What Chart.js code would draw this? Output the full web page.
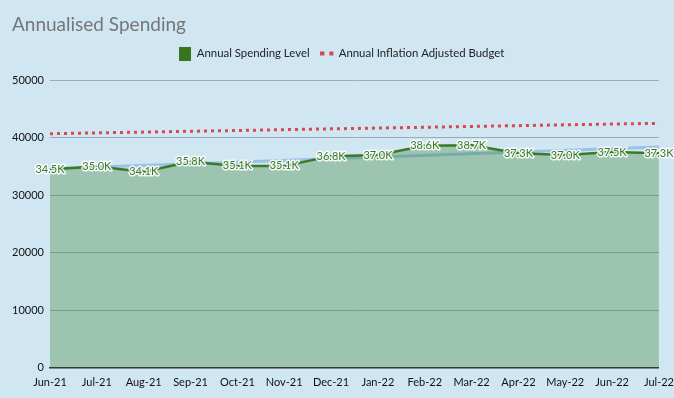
<!DOCTYPE html>
<html>
<head>
<meta charset="utf-8">
<script src="https://cdn.jsdelivr.net/npm/chart.js@4"></script>
<style>
  html, body { margin: 0; padding: 0; background: #d0e6f3; }
  #wrap { width: 674px; height: 398px; }
</style>
</head>
<body>
<div id="wrap"><canvas id="myChart"></canvas></div>
<script>
"use strict";

// chart data
let months = ["Jun-21", "Jul-21", "Aug-21", "Sep-21", "Oct-21", "Nov-21", "Dec-21",
  "Jan-22", "Feb-22", "Mar-22", "Apr-22", "May-22", "Jun-22", "Jul-22"];
let spending = [34500, 35000, 34100, 35800, 35100, 35100, 36800,
  37000, 38600, 38700, 37300, 37000, 37500, 37300];
let budget = [40700, 40840, 40980, 41120, 41260, 41400, 41540,
  41680, 41820, 41960, 42100, 42240, 42380, 42500];
let trend = [34600, null, null, null, null, null, null,
  null, null, null, null, null, null, 38400];
let yTicks = [0, 10000, 20000, 30000, 40000, 50000];

const GREEN = "#3a7a25";
const RED = "#d9474a";

// legend markers
function makeSquare() {
  let c = document.createElement("canvas");
  c.width = 12; c.height = 14;
  let ctx = c.getContext("2d");
  ctx.fillStyle = "#38761d";
  ctx.fillRect(0, 0, 12, 14);
  return c;
}
function makeDots() {
  let c = document.createElement("canvas");
  c.width = 14; c.height = 6;
  let ctx = c.getContext("2d");
  ctx.fillStyle = RED;
  ctx.fillRect(0, 1, 4, 4);
  ctx.fillRect(9, 1, 4, 4);
  return c;
}

// value labels on the spending line
const valueLabels = {
  id: "valueLabels",
  afterDatasetsDraw(chart) {
    let ctx = chart.ctx;
    let meta = chart.getDatasetMeta(0);
    ctx.save();
    ctx.font = "11px Lato";
    ctx.textAlign = "center";
    ctx.textBaseline = "middle";
    ctx.lineJoin = "round";
    meta.data.forEach((pt, i) => {
      let txt = (spending[i] / 1000).toFixed(1) + "K";
      ctx.lineWidth = 3;
      ctx.strokeStyle = "rgba(255,255,255,0.85)";
      ctx.strokeText(txt, pt.x, pt.y);
      ctx.fillStyle = "#3b7a2c";
      ctx.fillText(txt, pt.x, pt.y);
    });
    ctx.restore();
  }
};

// extra room under the legend
const legendGap = {
  id: "legendGap",
  beforeInit(chart) {
    let fit = chart.legend.fit;
    chart.legend.fit = function () {
      fit.bind(chart.legend)();
      this.height += 11;
    };
  }
};

let data = {
  labels: months,
  datasets: [
    {
      label: "Annual Spending Level",
      data: spending,
      borderColor: GREEN,
      borderWidth: 2.5,
      backgroundColor: "rgba(41,120,27,0.3)",
      fill: "origin",
      pointRadius: 0,
      tension: 0,
      order: 0
    },
    {
      label: "Annual Inflation Adjusted Budget",
      data: budget,
      borderColor: RED,
      borderWidth: 3,
      borderDash: [3, 4],
      fill: false,
      pointRadius: 0,
      order: 1
    },
    {
      label: "Trend",
      data: trend,
      borderColor: "rgba(150,190,225,0.9)",
      borderWidth: 3,
      spanGaps: true,
      fill: false,
      pointRadius: 0,
      order: 2
    }
  ]
};

const config = {
  type: "line",
  data: data,
  options: {
    responsive: true,
    maintainAspectRatio: false,
    animation: false,
    layout: { padding: { left: 12, right: 2, top: 9, bottom: 9 } },
    plugins: {
      tooltip: { enabled: false },
      title: {
        display: true,
        text: "Annualised Spending",
        align: "start",
        color: "#767676",
        font: { family: "Lato", size: 19, weight: "normal" },
        padding: { top: 4, bottom: 0 }
      },
      legend: {
        display: true,
        labels: {
          usePointStyle: true,
          color: "#222",
          font: { family: "Lato", size: 11.4 },
          padding: 12,
          generateLabels() {
            return [
              { text: "Annual Spending Level", pointStyle: makeSquare(), datasetIndex: 0, fontColor: "#222" },
              { text: "Annual Inflation Adjusted Budget", pointStyle: makeDots(), datasetIndex: 1, fontColor: "#222" }
            ];
          }
        }
      }
    },
    scales: {
      x: {
        grid: { display: false },
        border: { color: "#333", width: 1.5 },
        offset: false,
        ticks: {
          color: "#111",
          font: { family: "Lato", size: 11 },
          maxRotation: 0,
          autoSkip: false,
          padding: 0
        }
      },
      y: {
        min: 0,
        max: 50000,
        afterBuildTicks(axis) {
          axis.ticks = yTicks.map(v => ({ value: v }));
        },
        afterFit(axis) {
          axis.width = 38;
        },
        grid: { color: "#9aacb6", drawTicks: false },
        border: { display: false },
        ticks: {
          color: "#111",
          font: { family: "Lato", size: 11 },
          padding: 6,
          callback: v => String(v)
        }
      }
    }
  },
  plugins: [valueLabels, legendGap]
};

const theChart = new Chart(document.getElementById("myChart"), config);
</script>
</body>
</html>
